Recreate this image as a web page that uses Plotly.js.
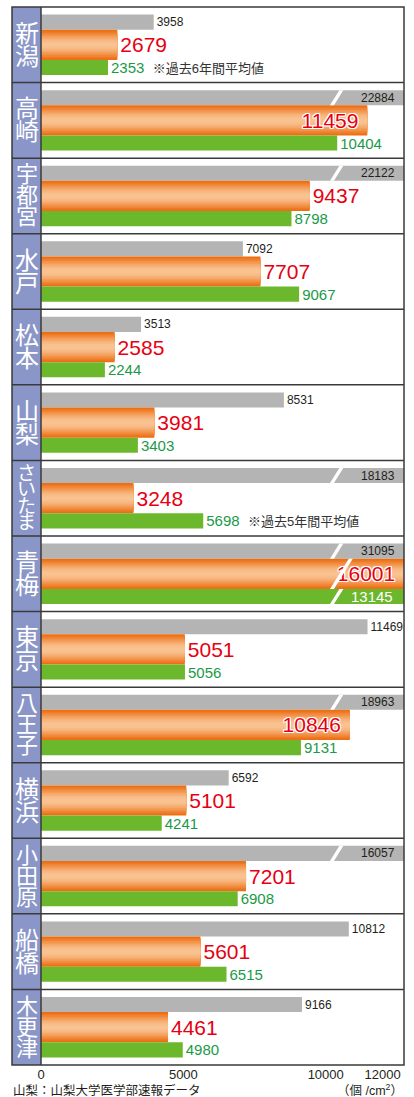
<!DOCTYPE html>
<html>
<head>
<meta charset="utf-8">
<script src="https://cdn.plot.ly/plotly-3.0.1.min.js"></script>
<style>
html,body{margin:0;padding:0;background:#fff;}
#chart{width:414px;height:1097px;}
</style>
</head>
<body>
<div id="chart"></div>
<script>
// ---- data ----
const cities = ['新潟','高崎','宇都宮','水戸','松本','山梨','さいたま','青梅','東京','八王子','横浜','小田原','船橋','木更津'];
const grayVals   = [3958,22884,22122,7092,3513,8531,18183,31095,11469,18963,6592,16057,10812,9166];
const orangeVals = [2679,11459,9437,7707,2585,3981,3248,16001,5051,10846,5101,7201,5601,4461];
const greenVals  = [2353,10404,8798,9067,2244,3403,5698,13145,5056,9131,4241,6908,6515,4980];
const greenNotes = ['※過去6年間平均値','','','','','','※過去5年間平均値','','','','','','',''];
const xTickVals  = [0,5000,10000,12000];
const xTickText  = ['0','5000','10000','12000'];
const sourceNote = '山梨：山梨大学医学部速報データ';
const unitNote   = '（個 /cm<sup>2</sup>）';

// ---- settings ----
const XMAX = 12750;           // right edge of the plot
const INSIDE_FROM = 10000;    // orange labels go inside from here
const BREAK_X = 10150;        // where the "broken bar" slash sits
const W = 414, H = 1097;
const M = {l:41, r:10, t:7, b:32};
const plotW = W - M.l - M.r;
const colLeft = -29 / plotW;  // label column left edge in paper units
const NUM_FONT = 'Liberation Sans, Arial, Noto Sans CJK JP, sans-serif';

const idx = cities.map((c, i) => i);
const clip = v => Math.min(v, XMAX);
const nb = '\u00a0';

const GRAY = {off:-0.4, w:0.2};
const ORANGE = {off:-0.2, w:0.4};
const GREEN = {off:0.2, w:0.2};

const traces = [];

// gray bars
traces.push({
  type:'bar', orientation:'h', y:idx, x:grayVals.map(clip),
  width:GRAY.w, offset:GRAY.off,
  marker:{color:'#b4b4b4', line:{width:0}},
  text:grayVals.map(v => v > XMAX ? String(v) + nb + nb : String(v)),
  textposition:grayVals.map(v => v > XMAX ? 'inside' : 'outside'),
  insidetextanchor:'end', constraintext:'none', cliponaxis:false,
  textfont:{family:NUM_FONT, size:12, color:'#231f20'},
  hoverinfo:'skip'
});

// orange bars with a vertical gradient made of nested bars (dark outside, light centre)
const N = 10;
const step = (ORANGE.w / 2) / N;
const edge = [236,108,14], centre = [249,194,146];
for (let k = 0; k < N; k++) {
  const s = (k + 0.5) / N;                 // 0 at edge, 1 at centre
  const t = Math.pow(Math.sin(Math.PI / 2 * s), 1.3);
  const c = edge.map((e, j) => Math.round(e + (centre[j] - e) * t));
  traces.push({
    type:'bar', orientation:'h', y:idx, x:orangeVals.map(clip),
    width:ORANGE.w - 2 * k * step, offset:ORANGE.off + k * step,
    marker:{color:`rgb(${c[0]},${c[1]},${c[2]})`, line:{width:0}},
    hoverinfo:'skip', showlegend:false
  });
}
// orange labels (transparent carrier bar)
traces.push({
  type:'bar', orientation:'h', y:idx, x:orangeVals.map(clip),
  width:ORANGE.w, offset:ORANGE.off,
  marker:{color:'rgba(0,0,0,0)', line:{width:0}},
  text:orangeVals.map(v => v > INSIDE_FROM ? String(v) + nb : String(v)),
  textposition:orangeVals.map(v => v > INSIDE_FROM ? 'inside' : 'outside'),
  insidetextanchor:'end', constraintext:'none', cliponaxis:false,
  textfont:{family:NUM_FONT, size:21, color:'#e60012',
    shadow:'1px 1px 0 #fff, -1px -1px 0 #fff, 1px -1px 0 #fff, -1px 1px 0 #fff, 0 1px 0 #fff, 0 -1px 0 #fff, 1px 0 0 #fff, -1px 0 0 #fff'},
  hoverinfo:'skip'
});

// green bars
traces.push({
  type:'bar', orientation:'h', y:idx, x:greenVals.map(clip),
  width:GREEN.w, offset:GREEN.off,
  marker:{color:'#6cb82c', line:{width:0}},
  text:greenVals.map((v, i) => {
    if (v > XMAX) return String(v) + nb + nb;
    const note = greenNotes[i];
    return note ? `${v}${nb}${nb}<span style="color:#333333;font-size:13px">${note}</span>` : String(v);
  }),
  textposition:greenVals.map(v => v > XMAX ? 'inside' : 'outside'),
  insidetextanchor:'end', constraintext:'none', cliponaxis:false,
  textfont:{family:NUM_FONT, size:15, color:'#1a9a48'},
  insidetextfont:{family:NUM_FONT, size:15, color:'#ffffff'},
  outsidetextfont:{family:NUM_FONT, size:15, color:'#1a9a48'},
  hoverinfo:'skip'
});

// ---- shapes ----
const shapes = [];
shapes.push({type:'rect', xref:'paper', yref:'paper', x0:colLeft, x1:0, y0:0, y1:1,
  fillcolor:'#8a96c8', line:{width:0}, layer:'below'});
for (let i = 0; i < cities.length - 1; i++) {
  shapes.push({type:'line', xref:'paper', yref:'y', x0:colLeft, x1:1, y0:i + 0.5, y1:i + 0.5,
    line:{color:'#3a3a3a', width:1.5}});
}
shapes.push({type:'line', xref:'paper', yref:'paper', x0:0, x1:0, y0:0, y1:1,
  line:{color:'#3a3a3a', width:1.5}});
shapes.push({type:'rect', xref:'paper', yref:'paper', x0:colLeft, x1:1, y0:0, y1:1,
  line:{color:'#3a3a3a', width:1.5}, fillcolor:'rgba(0,0,0,0)'});

// slashes on broken bars
const SLOPE = 1650, GAP = 140;
function slash(i, bar) {
  const yb = i + bar.off + bar.w, yt = i + bar.off;
  const dx = SLOPE * bar.w;
  return {type:'path', xref:'x', yref:'y', layer:'above',
    path:`M ${BREAK_X},${yb} L ${BREAK_X + GAP},${yb} L ${BREAK_X + GAP + dx},${yt} L ${BREAK_X + dx},${yt} Z`,
    fillcolor:'#ffffff', line:{width:0}};
}
idx.forEach(i => {
  if (grayVals[i] > XMAX) shapes.push(slash(i, GRAY));
  if (orangeVals[i] > XMAX) shapes.push(slash(i, ORANGE));
  if (greenVals[i] > XMAX) shapes.push(slash(i, GREEN));
});

// ---- annotations ----
const annotations = [];
const colCentre = -14.5 / plotW;
cities.forEach((name, i) => {
  const chars = [...name];
  const n = chars.length;
  const size = n === 2 ? 24 : n === 3 ? 22 : 19;
  const pitch = n === 2 ? 23 : n === 3 ? 21 : 16.5;
  chars.forEach((ch, k) => {
    annotations.push({xref:'paper', yref:'y', x:colCentre, y:i,
      yshift:-((k - (n - 1) / 2) * pitch), borderpad:0,
      text:ch, showarrow:false, xanchor:'center', yanchor:'middle',
      font:{family:NUM_FONT, size:size, color:'#ffffff'}});
  });
});
annotations.push({xref:'paper', yref:'paper', x:colLeft, y:0, yshift:-16.5,
  xanchor:'left', yanchor:'top', showarrow:false, text:sourceNote, borderpad:0,
  font:{family:NUM_FONT, size:12.5, color:'#231f20'}});
annotations.push({xref:'paper', yref:'paper', x:1, y:0, yshift:-15.5,
  xanchor:'right', yanchor:'top', showarrow:false, text:unitNote, borderpad:0,
  font:{family:NUM_FONT, size:12.5, color:'#231f20'}});

const layout = {
  width:W, height:H, margin:M,
  paper_bgcolor:'#ffffff', plot_bgcolor:'#ffffff',
  barmode:'overlay', showlegend:false,
  xaxis:{range:[0, XMAX], tickvals:xTickVals, ticktext:xTickText,
    showgrid:false, zeroline:false, showline:false, ticks:'',
    tickfont:{family:NUM_FONT, size:13, color:'#231f20'}, fixedrange:true},
  yaxis:{range:[cities.length - 0.5, -0.5], showticklabels:false, showgrid:false,
    zeroline:false, showline:false, ticks:'', fixedrange:true},
  shapes:shapes, annotations:annotations,
  font:{family:NUM_FONT}
};

Plotly.newPlot('chart', traces, layout, {displayModeBar:false, staticPlot:true});
</script>
</body>
</html>
